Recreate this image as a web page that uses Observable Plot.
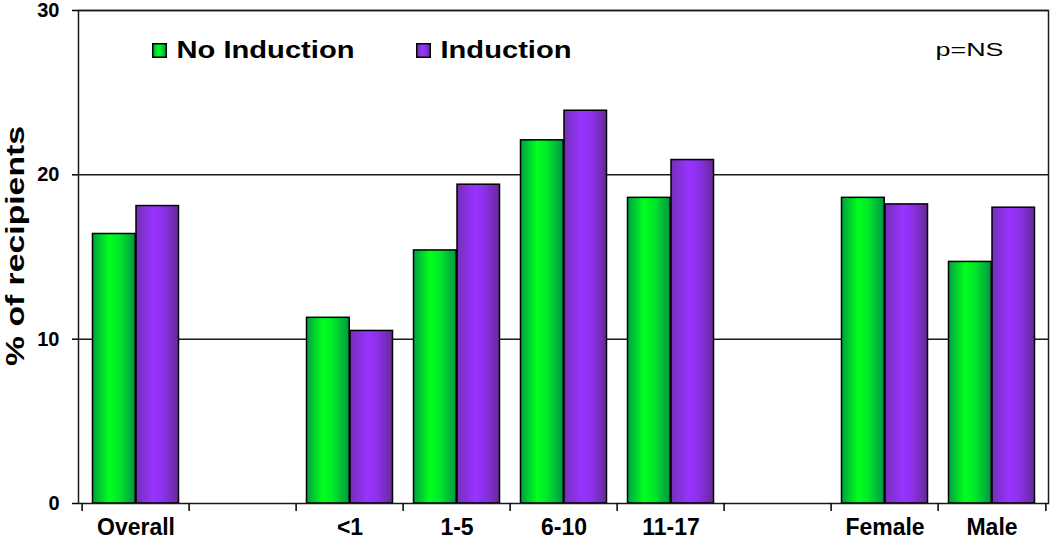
<!DOCTYPE html>
<html>
<head>
<meta charset="utf-8">
<script src="https://cdn.jsdelivr.net/npm/d3@7"></script>
<script src="https://cdn.jsdelivr.net/npm/@observablehq/plot@0.6"></script>
<style>
  html, body { margin: 0; padding: 0; background: #fff; }
</style>
</head>
<body>
<div id="chart"></div>
<script>
// ---- data ----
const categories = ["Overall", " ", "<1", "1-5", "6-10", "11-17", "  ", "Female", "Male"];
const noInduction = [16.4, null, 11.3, 15.4, 22.1, 18.6, null, 18.6, 14.7];
const induction   = [18.1, null, 10.5, 19.4, 23.9, 20.9, null, 18.2, 18.0];
const series = ["No Induction", "Induction"];
const yTicks = [0, 10, 20, 30];
const gridValues = [10, 20, 30];
const note = "p=NS";
const yLabel = "% of recipients";

// ---- table ----
const rowsNo = categories.map((c, i) => ({category: c, value: noInduction[i]})).filter(d => d.value != null);
const rowsIn = categories.map((c, i) => ({category: c, value: induction[i]})).filter(d => d.value != null);

const W = 1050, H = 542, ML = 78, MR = 2, MT = 10, MB = 39;
const half = (W - ML - MR) / categories.length / 2;
const ink = "#1a1a1a";

const svg = Plot.plot({
  width: W, height: H,
  marginLeft: ML, marginRight: MR, marginTop: MT, marginBottom: MB,
  style: {fontFamily: "'Liberation Sans', Arial, sans-serif", fontWeight: "bold", color: "black", background: "white"},
  x: {type: "band", domain: categories, paddingInner: 0, paddingOuter: 0},
  y: {domain: [0, 30]},
  marks: [
    Plot.ruleY(gridValues, {stroke: ink, strokeWidth: 1.5}),
    Plot.barY(rowsNo, {x: "category", y: "value", fill: "url(#gGreen)", stroke: "black", strokeWidth: 1.5, insetLeft: 10.5, insetRight: half * 2 - 54}),
    Plot.barY(rowsIn, {x: "category", y: "value", fill: "url(#gPurple)", stroke: "black", strokeWidth: 1.5, insetLeft: 54, insetRight: 10.5}),
    Plot.frame({stroke: ink, strokeWidth: 1.5}),
    Plot.axisY(yTicks, {tickSize: 6, tickPadding: 13, fontSize: 20, fontWeight: "bold", strokeWidth: 1.5, label: null}),
    Plot.axisX(categories, {tickSize: 8, tickFormat: () => "", dx: -half, strokeWidth: 1.5, label: null}),
    Plot.axisX([categories[categories.length - 1]], {tickSize: 8, tickFormat: () => "", dx: half, strokeWidth: 1.5, label: null}),
    Plot.axisX(categories, {tickSize: 0, tickPadding: 15, fontSize: 23, fontWeight: "bold", label: null}),
    Plot.text([yLabel], {frameAnchor: "left", text: d => d, rotate: -90, textAnchor: "middle", dx: -63, dy: -11, fontSize: 26, fontWeight: "bold"}),
    // legend
    Plot.dot([series[0]], {frameAnchor: "top-left", dx: 81, dy: 40, symbol: "square", r: 7.6, fill: "url(#gGreen)", stroke: "black", strokeWidth: 1.5}),
    Plot.dot([series[1]], {frameAnchor: "top-left", dx: 345, dy: 40, symbol: "square", r: 7.6, fill: "url(#gPurple)", stroke: "black", strokeWidth: 1.5}),
    Plot.text([series[0]], {frameAnchor: "top-left", text: d => d, dx: 98, dy: 40, textAnchor: "start", lineAnchor: "middle", fontSize: 23, fontWeight: "bold"}),
    Plot.text([series[1]], {frameAnchor: "top-left", text: d => d, dx: 362, dy: 40, textAnchor: "start", lineAnchor: "middle", fontSize: 23, fontWeight: "bold"}),
    Plot.text([note], {frameAnchor: "top-right", text: d => d, dx: -45, dy: 39, textAnchor: "end", lineAnchor: "middle", fontSize: 19, fontWeight: "normal"})
  ]
});

svg.insertAdjacentHTML("afterbegin", `
<defs>
  <linearGradient id="gGreen" x1="0" x2="1" y1="0" y2="0">
    <stop offset="0%" stop-color="#00a040"/>
    <stop offset="38%" stop-color="#00ff1e"/>
    <stop offset="62%" stop-color="#00e82a"/>
    <stop offset="100%" stop-color="#009644"/>
  </linearGradient>
  <linearGradient id="gPurple" x1="0" x2="1" y1="0" y2="0">
    <stop offset="0%" stop-color="#7430b8"/>
    <stop offset="42%" stop-color="#9933ff"/>
    <stop offset="65%" stop-color="#8c30ea"/>
    <stop offset="100%" stop-color="#662a96"/>
  </linearGradient>
</defs>`);

// the reference's lettering is horizontally stretched: widen glyphs to the measured lengths
const stretch = new Map([[series[0], 178], [series[1], 131], [note, 68], [yLabel, 240]]);
d3.select(svg).selectAll("text").each(function () {
  const t = this.textContent;
  if (stretch.has(t)) {
    this.setAttribute("textLength", stretch.get(t));
    this.setAttribute("lengthAdjust", "spacingAndGlyphs");
  }
});

document.getElementById("chart").appendChild(svg);
</script>
</body>
</html>
